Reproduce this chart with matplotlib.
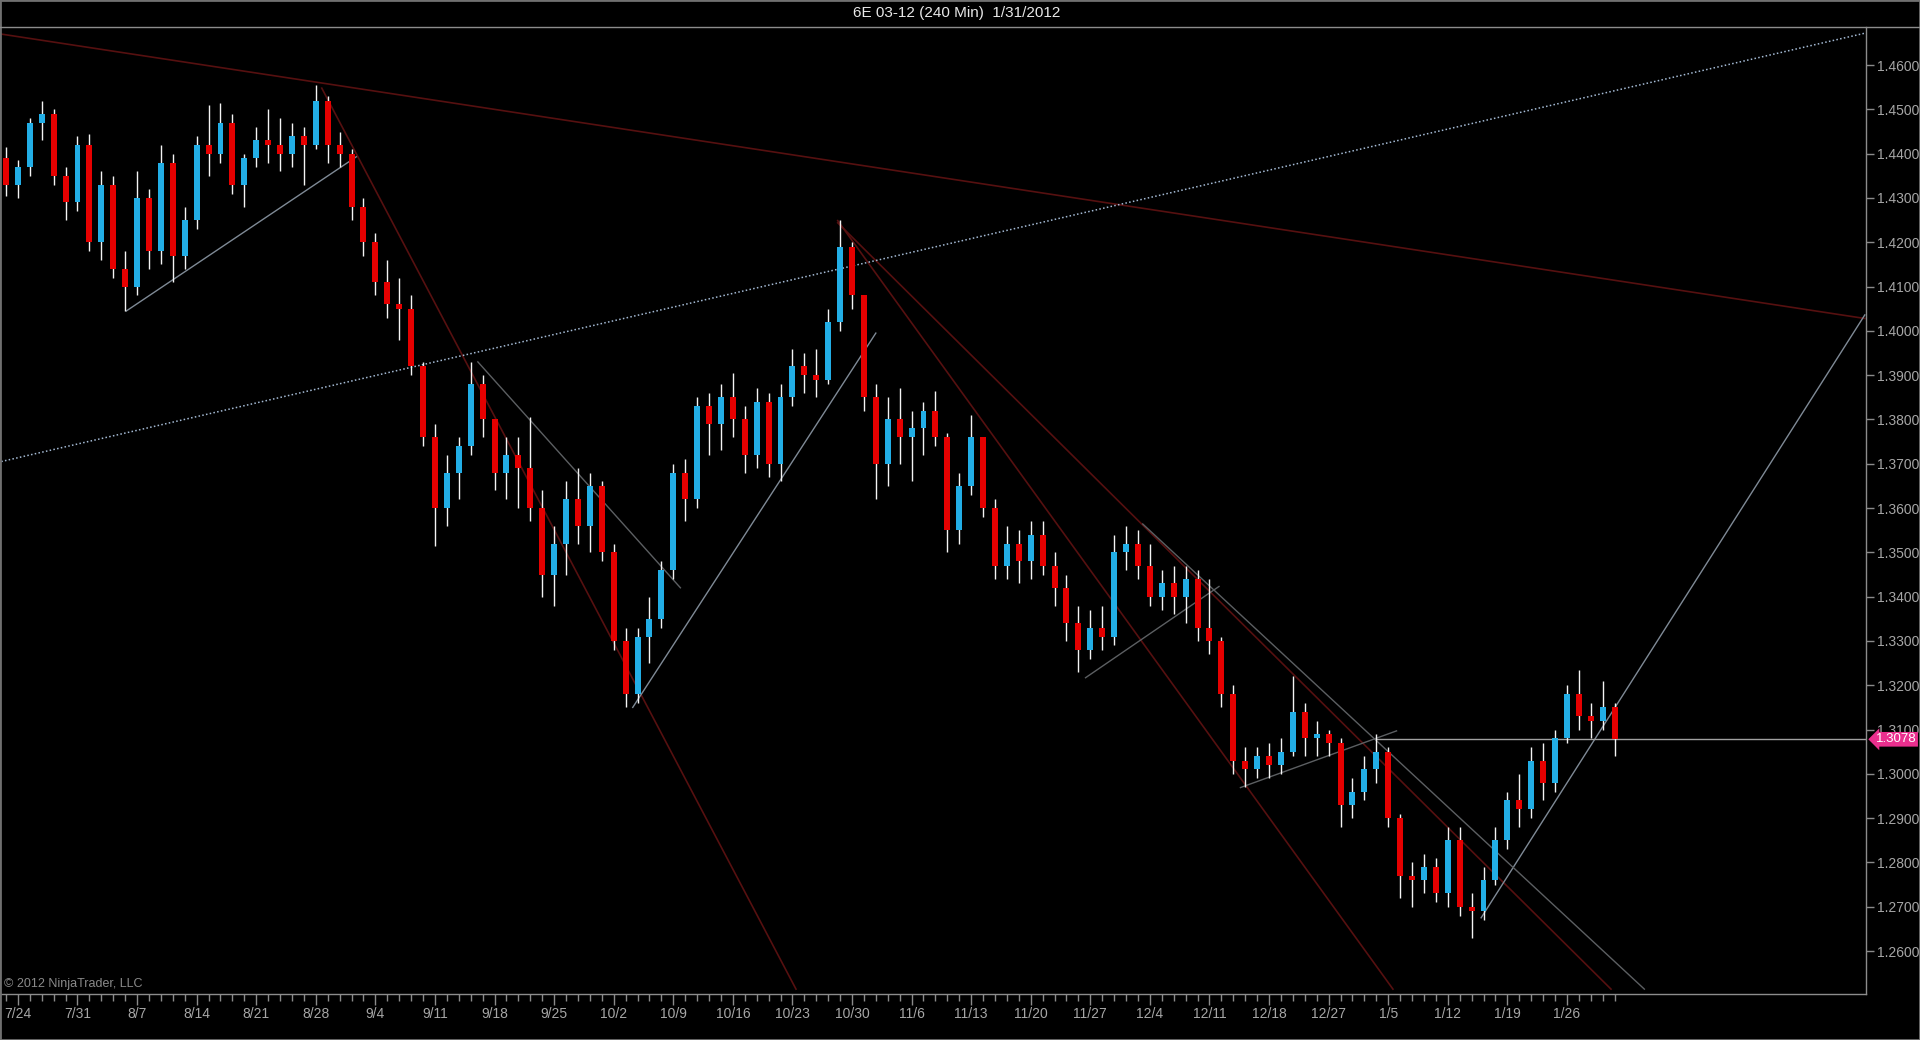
import matplotlib
matplotlib.use("Agg")
import matplotlib.pyplot as plt
from matplotlib import font_manager
from matplotlib.lines import Line2D
from matplotlib.patches import Rectangle
from matplotlib.transforms import blended_transform_factory

# daily bars (7/21/2011 .. 1/31/2012), open = prior close
first_open = 1.4390
highs = [1.4415, 1.4385, 1.4480, 1.4520, 1.4500, 1.4370, 1.4440, 1.4445, 1.4360, 1.4350,
         1.4180, 1.4360, 1.4320, 1.4420, 1.4400, 1.4280, 1.4440, 1.4510, 1.4515, 1.4490,
         1.4400, 1.4460, 1.4500, 1.4480, 1.4470, 1.4460, 1.4555, 1.4530, 1.4450, 1.4410,
         1.4300, 1.4220, 1.4160, 1.4120, 1.4080, 1.3930, 1.3790, 1.3720, 1.3760, 1.3930,
         1.3900, 1.3800, 1.3760, 1.3760, 1.3805, 1.3640, 1.3560, 1.3660, 1.3690, 1.3680,
         1.3660, 1.3520, 1.3330, 1.3330, 1.3400, 1.3480, 1.3700, 1.3710, 1.3850, 1.3860,
         1.3880, 1.3905, 1.3830, 1.3870, 1.3860, 1.3880, 1.3960, 1.3950, 1.3960, 1.4050,
         1.4250, 1.4200, 1.4080, 1.3880, 1.3850, 1.3870, 1.3820, 1.3840, 1.3865, 1.3770,
         1.3680, 1.3810, 1.3760, 1.3620, 1.3560, 1.3550, 1.3570, 1.3570, 1.3500, 1.3450,
         1.3380, 1.3370, 1.3380, 1.3540, 1.3560, 1.3550, 1.3520, 1.3460, 1.3470, 1.3470,
         1.3460, 1.3440, 1.3310, 1.3200, 1.3060, 1.3060, 1.3070, 1.3080, 1.3220, 1.3160,
         1.3120, 1.3100, 1.3080, 1.2990, 1.3040, 1.3090, 1.3060, 1.2910, 1.2800, 1.2820,
         1.2810, 1.2880, 1.2880, 1.2730, 1.2790, 1.2880, 1.2960, 1.3000, 1.3060, 1.3070,
         1.3100, 1.3200, 1.3235, 1.3160, 1.3210, 1.3160]
lows = [1.4305, 1.4300, 1.4350, 1.4430, 1.4330, 1.4250, 1.4270, 1.4180, 1.4160, 1.4120,
        1.4045, 1.4080, 1.4140, 1.4150, 1.4110, 1.4140, 1.4230, 1.4350, 1.4380, 1.4310,
        1.4280, 1.4370, 1.4380, 1.4360, 1.4370, 1.4330, 1.4410, 1.4380, 1.4370, 1.4250,
        1.4170, 1.4080, 1.4030, 1.3980, 1.3900, 1.3740, 1.3515, 1.3560, 1.3620, 1.3720,
        1.3760, 1.3640, 1.3620, 1.3600, 1.3570, 1.3400, 1.3380, 1.3450, 1.3520, 1.3500,
        1.3480, 1.3280, 1.3150, 1.3160, 1.3250, 1.3330, 1.3440, 1.3570, 1.3600, 1.3720,
        1.3730, 1.3760, 1.3680, 1.3690, 1.3670, 1.3660, 1.3830, 1.3860, 1.3850, 1.3880,
        1.4000, 1.4050, 1.3820, 1.3620, 1.3650, 1.3700, 1.3660, 1.3720, 1.3740, 1.3500,
        1.3520, 1.3630, 1.3580, 1.3440, 1.3440, 1.3430, 1.3440, 1.3450, 1.3380, 1.3300,
        1.3230, 1.3260, 1.3280, 1.3290, 1.3460, 1.3440, 1.3380, 1.3370, 1.3360, 1.3340,
        1.3300, 1.3270, 1.3150, 1.3000, 1.2970, 1.2990, 1.2990, 1.3000, 1.3040, 1.3040,
        1.3040, 1.3040, 1.2880, 1.2900, 1.2940, 1.2980, 1.2880, 1.2720, 1.2700, 1.2730,
        1.2710, 1.2700, 1.2680, 1.2630, 1.2670, 1.2750, 1.2830, 1.2880, 1.2900, 1.2940,
        1.2960, 1.3070, 1.3100, 1.3080, 1.3100, 1.3040]
closes = [1.4330, 1.4370, 1.4470, 1.4490, 1.4350, 1.4290, 1.4420, 1.4200, 1.4330, 1.4140,
          1.4100, 1.4300, 1.4180, 1.4380, 1.4170, 1.4250, 1.4420, 1.4400, 1.4470, 1.4330,
          1.4390, 1.4430, 1.4420, 1.4400, 1.4440, 1.4420, 1.4520, 1.4420, 1.4400, 1.4280,
          1.4200, 1.4110, 1.4060, 1.4050, 1.3920, 1.3760, 1.3600, 1.3680, 1.3740, 1.3880,
          1.3800, 1.3680, 1.3720, 1.3690, 1.3600, 1.3450, 1.3520, 1.3620, 1.3560, 1.3650,
          1.3500, 1.3300, 1.3180, 1.3310, 1.3350, 1.3460, 1.3680, 1.3620, 1.3830, 1.3790,
          1.3850, 1.3800, 1.3720, 1.3840, 1.3700, 1.3850, 1.3920, 1.3900, 1.3890, 1.4020,
          1.4190, 1.4080, 1.3850, 1.3700, 1.3800, 1.3760, 1.3780, 1.3820, 1.3760, 1.3550,
          1.3650, 1.3760, 1.3600, 1.3470, 1.3520, 1.3480, 1.3540, 1.3470, 1.3420, 1.3340,
          1.3280, 1.3330, 1.3310, 1.3500, 1.3520, 1.3470, 1.3400, 1.3430, 1.3400, 1.3440,
          1.3330, 1.3300, 1.3180, 1.3030, 1.3010, 1.3040, 1.3020, 1.3050, 1.3140, 1.3080,
          1.3090, 1.3070, 1.2930, 1.2960, 1.3010, 1.3050, 1.2900, 1.2770, 1.2760, 1.2790,
          1.2730, 1.2850, 1.2700, 1.2690, 1.2760, 1.2850, 1.2940, 1.2920, 1.3030, 1.2980,
          1.3080, 1.3180, 1.3130, 1.3120, 1.3150, 1.3078]

week_labels = ["7/24", "7/31", "8/7", "8/14", "8/21", "8/28", "9/4", "9/11", "9/18",
               "9/25", "10/2", "10/9", "10/16", "10/23", "10/30", "11/6", "11/13",
               "11/20", "11/27", "12/4", "12/11", "12/18", "12/27", "1/5", "1/12",
               "1/19", "1/26"]
first_label_bar = 1
bars_per_label = 5

# drawing objects, (bar, price) end points
red_lines = [[(-0.4, 1.4670), (156.0, 1.4028)],
             [(26.5, 1.4548), (66.3, 1.2514)],
             [(69.8, 1.4249), (116.4, 1.2514)],
             [(69.8, 1.4244), (134.7, 1.2514)]]
blue_lines = [[(-0.4, 1.3705), (156.0, 1.4672)]]
trend_lines = [[(10.1, 1.4045), (29.4, 1.4393)],
               [(52.6, 1.3150), (73.0, 1.3995)],
               [(123.8, 1.2675), (156.0, 1.4036)]]
channel_lines = [[(39.6, 1.3930), (56.6, 1.3420)],
                 [(90.6, 1.3217), (101.8, 1.3423)],
                 [(103.6, 1.2969), (116.7, 1.3097)],
                 [(95.4, 1.3564), (137.5, 1.2514)]]
last_price = 1.3078
hline_start = 115.1

opens = [first_open] + closes[:-1]
n = len(closes)

names = {f.name for f in font_manager.fontManager.ttflist}
main_font = "Liberation Sans" if "Liberation Sans" in names else "DejaVu Sans"
narrow_font = "Liberation Sans Narrow" if "Liberation Sans Narrow" in names else main_font
plt.rcParams["font.family"] = [main_font, "DejaVu Sans"]

W, H = 1920, 1040
fig = plt.figure(figsize=(W / 100, H / 100), dpi=100, facecolor="black")
ax = fig.add_axes([1 / W, (H - 994) / H, 1865 / W, (994 - 27) / H])
ax.set_facecolor("black")

up_col = "#22aee6"
dn_col = "#e60000"
x = list(range(n))
ax.vlines(x, lows, highs, color="#f4f4f4", lw=1, zorder=3)
bottoms = [min(o, c) for o, c in zip(opens, closes)]
heights = [max(abs(c - o), 0.0003) for o, c in zip(opens, closes)]
cols = [up_col if c >= o else dn_col for o, c in zip(opens, closes)]
ax.bar(x, heights, bottom=bottoms, width=0.5, color=cols, lw=0, zorder=4)

for seg in red_lines:
    ax.plot([p[0] for p in seg], [p[1] for p in seg], color="#561010", lw=1.2, zorder=2)
for seg in blue_lines:
    ax.plot([p[0] for p in seg], [p[1] for p in seg], color="#a4bad4", lw=1.1,
            ls=(0, (1, 1.5)), zorder=2)
for seg in trend_lines:
    ax.plot([p[0] for p in seg], [p[1] for p in seg], color="#7f8a96", lw=1, zorder=2)
for seg in channel_lines:
    ax.plot([p[0] for p in seg], [p[1] for p in seg], color="#5c5f62", lw=1, zorder=2)
ax.plot([hline_start, 157], [last_price, last_price], color="#a0a0a0", lw=1, zorder=2)

ax.set_xlim(-0.42, 156.1)
ax.set_ylim(1.2503, 1.4686)

# price scale
ax.yaxis.tick_right()
ax.set_yticks([1.26 + 0.01 * k for k in range(21)])
ax.set_yticklabels([f"{1.26 + 0.01 * k:.4f}" for k in range(21)])
ax.tick_params(axis="y", colors="#8a8a8a", labelcolor="#a6a6a6", length=6,
               width=1, labelsize=10, pad=2)

# time scale
major = [first_label_bar + bars_per_label * k for k in range(len(week_labels))]
ax.set_xticks(major)
ax.set_xticklabels(week_labels, fontfamily=narrow_font)
ax.set_xticks(list(range(n)), minor=True)
ax.tick_params(axis="x", which="major", colors="#8a8a8a", labelcolor="#a6a6a6",
               length=8, width=1, labelsize=10, pad=1)
ax.tick_params(axis="x", which="minor", colors="#8a8a8a", length=5, width=1)

for side in ["left", "top"]:
    ax.spines[side].set_visible(False)
for side in ["right", "bottom"]:
    ax.spines[side].set_color("#8c8c8c")
    ax.spines[side].set_linewidth(1)

# last price marker, drawn over the scale like the platform does
tr = blended_transform_factory(ax.transAxes, ax.transData)
ax.text(1.0 + 10 / 1865, last_price, f"{last_price:.4f}", transform=tr, ha="left",
        va="center", color="white", fontsize=9.5,
        bbox=dict(boxstyle="larrow,pad=0.1", fc="#ea2f8e", ec="none"), zorder=6)

ax.text(0.0015, 0.004, "\u00a9 2012 NinjaTrader, LLC", transform=ax.transAxes,
        ha="left", va="bottom", color="#8a8a8a", fontsize=9, fontfamily=narrow_font)

fig.text(957 / W, 1 - 13 / H, "6E 03-12 (240 Min)  1/31/2012", ha="center",
         va="center", color="#e8e8e8", fontsize=11)
fig.add_artist(Line2D([0, 1], [1 - 27 / H] * 2, transform=fig.transFigure,
                      color="#8c8c8c", lw=1))
fig.add_artist(Rectangle((0, 0), 1, 1, transform=fig.transFigure, fill=False,
                         ec="#707070", lw=2))

fig.savefig("out.png", dpi=100, facecolor="black")
